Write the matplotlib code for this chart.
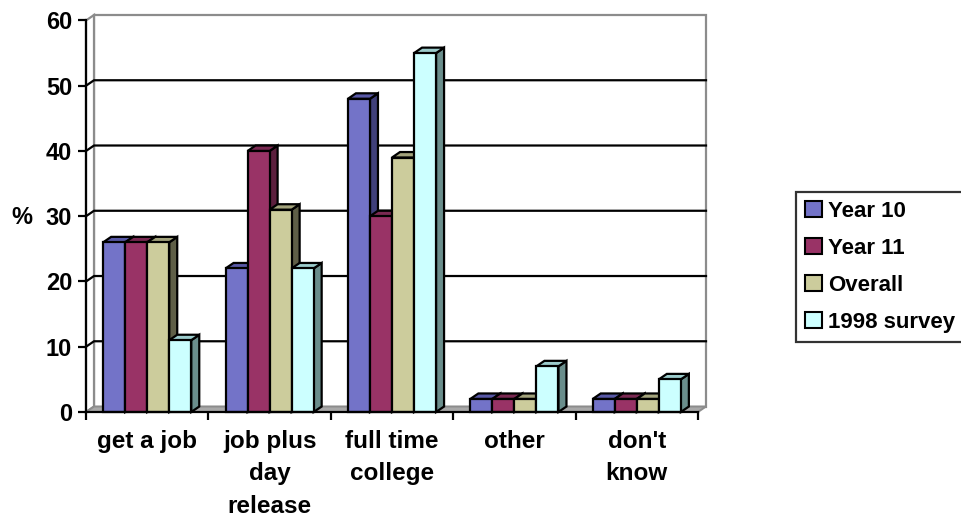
import matplotlib
matplotlib.use("Agg")
import matplotlib.pyplot as plt
from matplotlib.patches import Polygon, Rectangle

plt.rcParams['font.family'] = ['Liberation Sans', 'DejaVu Sans']
plt.rcParams['font.weight'] = 'bold'

# survey results, % of respondents per destination
categories = ['get a job', 'job plus\nday\nrelease', 'full time\ncollege', 'other', "don't\nknow"]
series_names = ['Year 10', 'Year 11', 'Overall', '1998 survey']
year10 = [26, 22, 48, 2, 2]
year11 = [26, 40, 30, 2, 2]
overall = [26, 31, 39, 2, 2]
survey1998 = [11, 22, 55, 7, 5]
yticks = [0, 10, 20, 30, 40, 50, 60]

front_cols = ['#7373C8', '#993366', '#CCCC9C', '#CCFFFF']
side_cols = ['#3F3F7A', '#5C1F3D', '#5F5F47', '#6A8E8C']
top_cols = ['#5858A6', '#7A2952', '#A3A37C', '#9CCCCC']

# depth of the fake 3d box, in data units
DX = 0.0654
DY = 0.84
BAR_W = 0.18
GAP = 0.14

W, H = 961, 520
fig = plt.figure(figsize=(W / 100, H / 100), dpi=100)
ax = fig.add_axes([86 / W, (H - 412) / H, 620 / W, 397 / H])
ax.set_xlim(0, 5 + DX)
ax.set_ylim(0, 60 + DY)
ncat = len(categories)
ymax = yticks[-1]

# floor and walls
wall = '#8C8C8C'
ax.add_patch(Polygon([(0, 0), (ncat, 0), (ncat + DX, DY), (DX, DY)],
                     closed=True, fc='#A8A8A8', ec=wall, lw=1.4, zorder=1, clip_on=False))
ax.add_patch(Rectangle((DX, DY), ncat, ymax, fc='white', ec=wall, lw=1.6, zorder=0.5, clip_on=False))
ax.add_patch(Polygon([(0, 0), (DX, DY), (DX, ymax + DY), (0, ymax)],
                     closed=True, fc='white', ec=wall, lw=1.6, zorder=0.6, clip_on=False))

# gridlines across left wall and back wall
for v in yticks[1:-1]:
    ax.plot([0, DX, ncat + DX], [v, v + DY, v + DY], color='black', lw=1.6,
            zorder=2, clip_on=False)

series = [year10, year11, overall, survey1998]
z = 3
for i in range(ncat):
    for j, vals in enumerate(series):
        v = vals[i]
        x0 = i + GAP + j * BAR_W
        x1 = x0 + BAR_W
        ax.add_patch(Polygon([(x1, 0), (x1 + DX, DY), (x1 + DX, v + DY), (x1, v)],
                             closed=True, fc=side_cols[j], ec='black', lw=1.6,
                             zorder=z, clip_on=False))
        ax.add_patch(Polygon([(x0, v), (x0 + DX, v + DY), (x1 + DX, v + DY), (x1, v)],
                             closed=True, fc=top_cols[j], ec='black', lw=1.6,
                             zorder=z, clip_on=False))
        ax.bar(x0, v, width=BAR_W, align='edge', color=front_cols[j],
               edgecolor='black', lw=1.6, zorder=z + 0.5, clip_on=False)
        z += 1

# axes spines and ticks
for s in ['top', 'right']:
    ax.spines[s].set_visible(False)
for s in ['left', 'bottom']:
    ax.spines[s].set_linewidth(1.6)
    ax.spines[s].set_zorder(50)
ax.spines['left'].set_bounds(0, ymax)
ax.spines['bottom'].set_bounds(0, ncat)
ax.set_yticks(yticks)
ax.tick_params(axis='y', direction='out', length=6, width=1.6, pad=4, labelsize=17)
ax.set_xticks(range(ncat + 1))
ax.set_xticklabels([])
ax.set_xticks([i + 0.5 for i in range(ncat)], minor=True)
ax.set_xticklabels(categories, minor=True, fontsize=17.5, linespacing=1.52, va='top')
ax.tick_params(axis='x', which='major', direction='out', length=6, width=1.6)
ax.tick_params(axis='x', which='minor', length=0, pad=13)

fig.text(22 / W, 1 - 217 / H, '%', fontsize=17, ha='center', va='center')

handles = [Rectangle((0, 0), 1, 1, fc=c, ec='black', lw=1.5) for c in front_cols]
leg = fig.legend(handles, series_names, loc='upper left',
                 bbox_to_anchor=(796 / W, 1 - 192 / H), frameon=True, fancybox=False,
                 edgecolor='black', fontsize=16, handlelength=0.75, handleheight=0.75,
                 handletextpad=0.3, labelspacing=0.72, borderpad=0.4, borderaxespad=0)
leg.get_frame().set_linewidth(1.6)

fig.savefig('out.png', dpi=100, facecolor='white')
